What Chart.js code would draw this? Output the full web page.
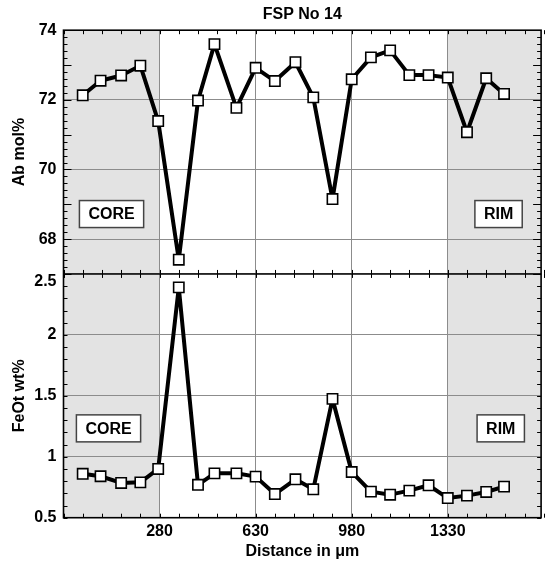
<!DOCTYPE html>
<html>
<head>
<meta charset="utf-8">
<script src="https://cdn.jsdelivr.net/npm/chart.js@4.4.1/dist/chart.umd.min.js"></script>
<style>
  html, body { margin: 0; padding: 0; background: #fff; }
</style>
</head>
<body>
<canvas id="c" width="550" height="565"></canvas>
<script>
// distance along the traverse (µm)
const distance = [0, 65, 140, 210, 275, 350, 420, 480, 560, 630, 700, 775, 840, 910, 980, 1050, 1120, 1190, 1260, 1330, 1400, 1470, 1535];
const abMol = [72.13, 72.55, 72.70, 72.98, 71.39, 67.41, 71.98, 73.60, 71.77, 72.92, 72.54, 73.08, 72.07, 69.15, 72.59, 73.22, 73.42, 72.71, 72.71, 72.64, 71.07, 72.62, 72.17];
const feOt = [0.86, 0.84, 0.785, 0.79, 0.90, 2.39, 0.77, 0.864, 0.864, 0.837, 0.694, 0.815, 0.733, 1.475, 0.875, 0.714, 0.689, 0.722, 0.766, 0.661, 0.681, 0.711, 0.755];

const xTicks = [280, 630, 980, 1330];
const abTicks = [68, 70, 72, 74];
const feTicks = [0.5, 1, 1.5, 2, 2.5];
const coreEnd = 280;
const rimStart = 1330;

const FONT = '"Liberation Sans", Arial, Helvetica, sans-serif';
const bold16 = { family: FONT, size: 16, weight: 'bold' };

const pts = (ys) => distance.map((x, i) => ({ x, y: ys[i] }));
const feTop = feTicks[feTicks.length - 1];

// grey zones, inward minor ticks, frame and CORE / RIM boxes
const decor = {
  id: 'decor',
  beforeDraw(chart) {
    const { ctx, chartArea: a, scales: { x } } = chart;
    ctx.save();
    ctx.fillStyle = '#fff';
    ctx.fillRect(0, 0, chart.width, chart.height);
    ctx.fillStyle = '#e3e3e3';
    const c = x.getPixelForValue(coreEnd), r = x.getPixelForValue(rimStart);
    ctx.fillRect(a.left, a.top, c - a.left, a.bottom - a.top);
    ctx.fillRect(r, a.top, a.right - r, a.bottom - a.top);
    ctx.restore();
  },
  afterDraw(chart) {
    const { ctx, chartArea: a, scales: { x, yAb, yFe } } = chart;
    ctx.save();
    ctx.strokeStyle = '#000';
    ctx.lineWidth = 1;
    ctx.beginPath();
    // x minor ticks every 70
    for (let i = 0; i <= 25; i++) {
      const px = Math.round(x.getPixelForValue(-70 + i * 70)) + 0.5;
      [[yAb.top, 4], [yAb.bottom, -4], [yFe.top, 4], [yFe.bottom, -4]].forEach(([y0, d]) => {
        ctx.moveTo(px, y0); ctx.lineTo(px, y0 + d);
      });
    }
    for (let i = 0; i <= 35; i++) {
      const v = 67 + i * 0.2;
      const py = Math.round(yAb.getPixelForValue(v)) + 0.5;
      const len = (i % 5 === 0) ? 8 : 4;
      ctx.moveTo(a.left, py); ctx.lineTo(a.left + len, py);
      ctx.moveTo(a.right, py); ctx.lineTo(a.right - len, py);
    }
    for (let i = 0; i <= 20; i++) {
      const v = 0.5 + i * 0.1;
      const py = Math.round(yFe.getPixelForValue(v)) + 0.5;
      ctx.moveTo(a.left, py); ctx.lineTo(a.left + 4, py);
      ctx.moveTo(a.right, py); ctx.lineTo(a.right - 4, py);
    }
    ctx.stroke();

    ctx.lineWidth = 1.6;
    ctx.strokeRect(a.left, a.top, a.right - a.left, a.bottom - a.top);
    ctx.beginPath();
    ctx.moveTo(a.left, yAb.bottom); ctx.lineTo(a.right, yAb.bottom);
    ctx.stroke();

    ctx.font = 'bold 16px ' + FONT;
    ctx.fillStyle = '#000';
    // top label of the lower panel sits just under the panel join
    ctx.textAlign = 'right';
    ctx.textBaseline = 'middle';
    ctx.fillText(String(feTop), a.left - 7, yFe.getPixelForValue(feTop) + 8);

    const boxes = [
      { text: 'CORE', x: 105, y: 68.72, s: yAb },
      { text: 'RIM', x: 1515, y: 68.72, s: yAb },
      { text: 'CORE', x: 94, y: 1.233, s: yFe },
      { text: 'RIM', x: 1523, y: 1.233, s: yFe },
    ];
    ctx.textAlign = 'center';
    boxes.forEach(b => {
      const cx = x.getPixelForValue(b.x), cy = b.s.getPixelForValue(b.y);
      const w = ctx.measureText(b.text).width + 18, h = 27;
      ctx.fillStyle = '#fff';
      ctx.fillRect(cx - w / 2, cy - h / 2, w, h);
      ctx.strokeStyle = '#444';
      ctx.lineWidth = 1.5;
      ctx.strokeRect(cx - w / 2, cy - h / 2, w, h);
      ctx.fillStyle = '#000';
      ctx.fillText(b.text, cx, cy + 1);
    });
    ctx.restore();
  }
};

const lineStyle = {
  showLine: true,
  borderColor: '#000',
  borderWidth: 4,
  borderJoinStyle: 'round',
  tension: 0,
  pointStyle: 'rect',
  pointRadius: 7.3,
  pointBackgroundColor: '#fff',
  pointBorderColor: '#000',
  pointBorderWidth: 1.6,
};

const gridOpts = { color: '#8c8c8c', lineWidth: 1, drawTicks: false };
const plain = v => String(v);

new Chart(document.getElementById('c'), {
  type: 'scatter',
  data: {
    datasets: [
      { ...lineStyle, label: 'Ab mol%', data: pts(abMol), xAxisID: 'x', yAxisID: 'yAb' },
      { ...lineStyle, label: 'FeOt wt%', data: pts(feOt), xAxisID: 'x', yAxisID: 'yFe' },
    ]
  },
  options: {
    responsive: false,
    animation: false,
    devicePixelRatio: 1,
    layout: { padding: { right: 2 } },
    plugins: {
      legend: { display: false },
      tooltip: { enabled: false },
      title: { display: true, fullSize: false, text: 'FSP No 14', color: '#000', font: bold16, padding: { top: 5, bottom: 6 } },
    },
    scales: {
      x: {
        type: 'linear', min: -70, max: 1670,
        afterBuildTicks: s => { s.ticks = xTicks.map(v => ({ value: v })); },
        afterFit: s => { s.height = 47.3; },
        grid: gridOpts,
        border: { display: false },
        ticks: { color: '#000', font: bold16, padding: 4, maxRotation: 0, callback: plain },
        title: { display: true, text: 'Distance in μm', color: '#000', font: bold16, padding: { top: 0, bottom: 4 } },
      },
      // stacked axes: the one listed first lands at the bottom
      yFe: {
        type: 'linear', position: 'left', stack: 'panels', stackWeight: 1,
        min: 0.5, max: 2.5,
        afterBuildTicks: s => { s.ticks = feTicks.map(v => ({ value: v })); },
        afterFit: s => { s.width = 63.5; },
        grid: gridOpts,
        border: { display: false },
        ticks: { color: '#000', font: bold16, padding: 7, callback: v => (v === feTop ? '' : String(v)) },
        title: { display: true, text: 'FeOt wt%', color: '#000', font: bold16, padding: { top: 10, bottom: 0 } },
      },
      yAb: {
        type: 'linear', position: 'left', stack: 'panels', stackWeight: 1,
        min: 67, max: 74,
        afterBuildTicks: s => { s.ticks = abTicks.map(v => ({ value: v })); },
        afterFit: s => { s.width = 63.5; },
        grid: gridOpts,
        border: { display: false },
        ticks: { color: '#000', font: bold16, padding: 7, callback: plain },
        title: { display: true, text: 'Ab mol%', color: '#000', font: bold16, padding: { top: 10, bottom: 0 } },
      },
    }
  },
  plugins: [decor]
});
</script>
</body>
</html>
